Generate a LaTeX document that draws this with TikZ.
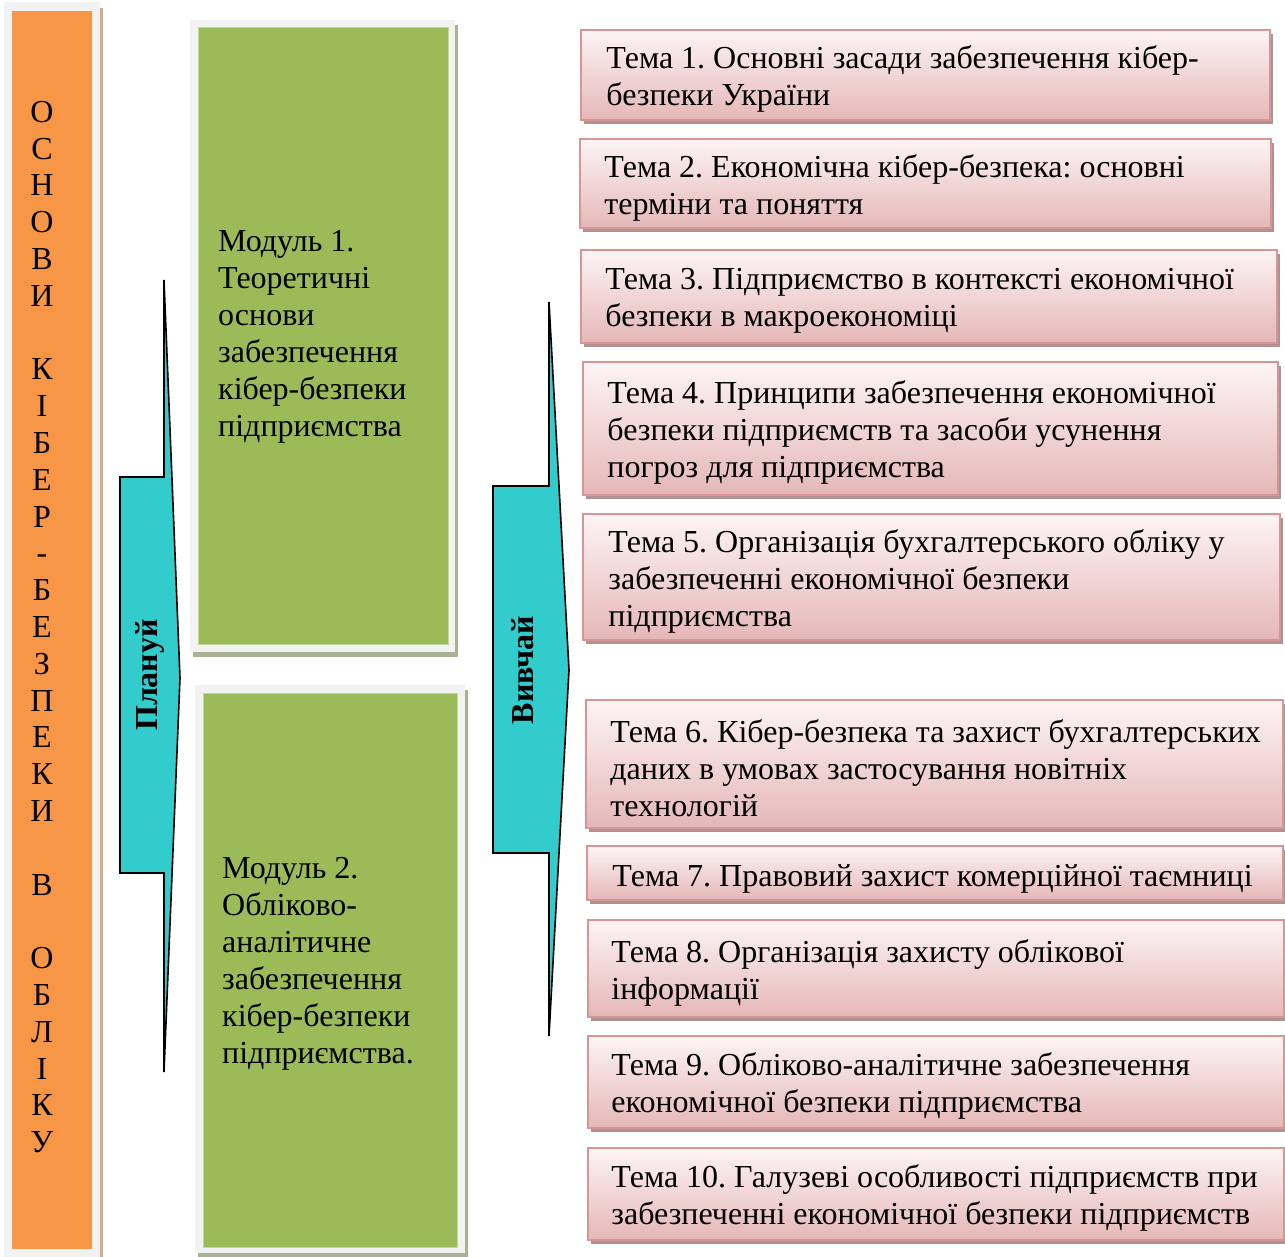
\documentclass[tikz,border=0pt]{standalone}
\usepackage{fontspec}
\setmainfont{Liberation Serif}
\usetikzlibrary{shadows}
\frenchspacing
\definecolor{orangebar}{RGB}{247,150,70}
\definecolor{orangeshadow}{RGB}{212,170,136}
\definecolor{framegray}{RGB}{242,242,242}
\definecolor{greenbox}{RGB}{155,187,89}
\definecolor{greenedge}{RGB}{196,215,155}
\definecolor{greenshadow}{RGB}{170,178,150}
\definecolor{arrowcyan}{RGB}{51,204,204}
\definecolor{temtop}{RGB}{253,244,244}
\definecolor{tembot}{RGB}{229,183,183}
\definecolor{temborder}{RGB}{217,149,148}
\definecolor{temshadow}{RGB}{172,146,146}
\newcommand{\tembox}[5]{\node[tema, minimum width={#4-#2}, minimum height={#5-#3}] (#1) at ({(#2+#4)/2},{(#3+#5)/2}) {};}
\begin{document}
\begin{tikzpicture}[x=1pt,y=-1pt,
  tema/.style={draw=temborder, line width=1.5pt, top color=temtop, bottom color=tembot, inner sep=0pt,
    drop shadow={shadow xshift=3pt, shadow yshift=-4pt, fill=temshadow, opacity=1}},
  ttext/.style={font=\fontsize{32}{37}\selectfont, align=left, inner sep=0pt, anchor=west},
  frame/.style={fill=framegray, draw=none, inner sep=0pt},
  greenfill/.style={fill=greenbox, draw=greenedge, line width=1pt, inner sep=0pt},
  arrowshape/.style={fill=arrowcyan, draw=black, line width=1.6pt, line join=miter},
  arrowlabel/.style={font=\fontsize{32}{37}\selectfont\bfseries, rotate=90, inner sep=0pt}
]
\useasboundingbox (0,0) rectangle (1285,1256);
\fill[white] (0,0) rectangle (1285,1256);

% orange bar
\fill[orangeshadow] (97,8) rectangle (103,1260);
\node[frame, minimum width=96, minimum height=1257] (of) at (52,1.5+629) {};
\node[fill=orangebar, draw=none, inner sep=0pt, minimum width=80, minimum height=1238] (ob) at (52,630) {};
\node[font=\fontsize{32}{36.8}\selectfont, align=center, inner sep=0pt] (otext) at (42,627)
  {О\\С\\Н\\О\\В\\И\\{}\\К\\І\\Б\\Е\\Р\\-\\Б\\Е\\З\\П\\Е\\К\\И\\{}\\В\\{}\\О\\Б\\Л\\І\\К\\У};

% green module boxes
\node[frame, minimum width=265, minimum height=632,
  drop shadow={shadow xshift=3pt, shadow yshift=-5pt, fill=greenshadow, opacity=1}] (g1f) at (322.5,336) {};
\node[greenfill, minimum width=250, minimum height=617] (g1) at (323,335.5) {};
\node[frame, minimum width=270, minimum height=568,
  drop shadow={shadow xshift=3pt, shadow yshift=-5pt, fill=greenshadow, opacity=1}] (g2f) at (330,969) {};
\node[greenfill, minimum width=254, minimum height=554] (g2) at (330,970) {};
\node[ttext] (m1) at (218,337) {Модуль 1.\\Теоретичні\\основи\\забезпечення\\кібер-безпеки\\підприємства};
\node[ttext] (m2) at (222,964) {Модуль 2.\\Обліково-\\аналітичне\\забезпечення\\кібер-безпеки\\підприємства.};

% arrows
\draw[arrowshape] (164,280) -- (180,678) -- (164,1072) -- (164,873) -- (120,873) -- (120,477) -- (164,477) -- cycle;
\node[arrowlabel] (plan) at (150,675) {Плануй};
\draw[arrowshape] (549,302) -- (569,670) -- (549,1036) -- (549,853) -- (493,853) -- (493,486) -- (549,486) -- cycle;
\node[arrowlabel] (learn) at (523,670) {Вивчай};

% theme boxes
\tembox{t1}{581}{30}{1270}{120}
\tembox{t2}{580}{139}{1271}{228}
\tembox{t3}{581}{250}{1277}{343}
\tembox{t4}{583}{362}{1278}{495}
\tembox{t5}{583}{514}{1280}{640}
\tembox{t6}{586}{700}{1283}{828}
\tembox{t7}{587}{846}{1283}{900}
\tembox{t8}{588}{920}{1284}{1017}
\tembox{t9}{588}{1036}{1284}{1128}
\tembox{t10}{588}{1148}{1284}{1240}

\node[ttext] (x1) at ([xshift=26pt,yshift=-4pt]t1.west) {Тема 1. Основні засади забезпечення кібер-\\безпеки України};
\node[ttext] (x2) at ([xshift=25pt,yshift=-4pt]t2.west) {Тема 2. Економічна кібер-безпека: основні\\терміни та поняття};
\node[ttext] (x3) at ([xshift=25pt,yshift=-4pt]t3.west) {Тема 3. Підприємство в контексті економічної\\безпеки в макроекономіці};
\node[ttext] (x4) at ([xshift=25pt,yshift=-4pt]t4.west) {Тема 4. Принципи забезпечення економічної\\безпеки підприємств та засоби усунення\\погроз для підприємства};
\node[ttext] (x5) at ([xshift=26pt,yshift=-4pt]t5.west) {Тема 5. Організація бухгалтерського обліку у\\забезпеченні економічної безпеки\\підприємства};
\node[ttext] (x6) at ([xshift=25pt,yshift=-4pt]t6.west) {Тема 6. Кібер-безпека та захист бухгалтерських\\даних в умовах застосування новітніх\\технологій};
\node[ttext] (x7) at ([xshift=26pt,yshift=-6pt]t7.west) {Тема 7. Правовий захист комерційної таємниці};
\node[ttext] (x8) at ([xshift=24pt,yshift=-4pt]t8.west) {Тема 8. Організація захисту облікової\\інформації};
\node[ttext] (x9) at ([xshift=24pt,yshift=-4pt]t9.west) {Тема 9. Обліково-аналітичне забезпечення\\економічної безпеки підприємства};
\node[ttext] (x10) at ([xshift=24pt,yshift=-4pt]t10.west) {Тема 10. Галузеві особливості підприємств при\\забезпеченні економічної безпеки підприємств};
\end{tikzpicture}
\end{document}
